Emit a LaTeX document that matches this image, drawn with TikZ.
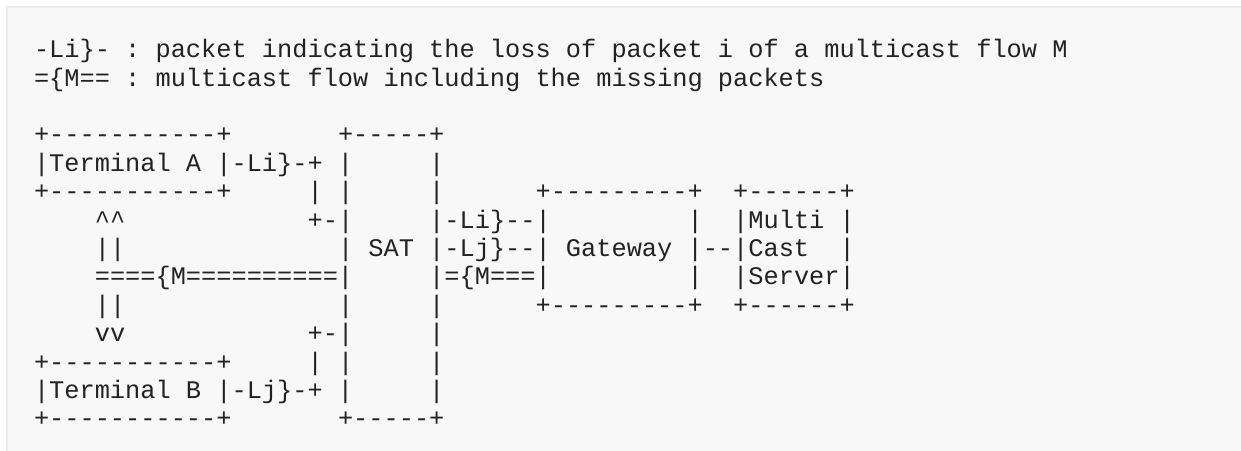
\documentclass[tikz,border=0pt]{standalone}
\usepackage{fontspec}
\setmonofont{Liberation Mono}
\definecolor{bgc}{HTML}{F8F8F8}
\definecolor{bdr}{HTML}{EBEBEB}
\definecolor{txt}{HTML}{222222}
\newcommand\asciifont{\ttfamily\fontsize{25.33bp}{28.4bp}\selectfont}
\newcommand\asccaret{\char"5E\relax}
\tikzset{asc/.style={anchor=base west, inner sep=0pt, outer sep=0pt, font=\asciifont, text=txt}}
\begin{document}
\begin{tikzpicture}[x=1bp,y=-1bp]
\useasboundingbox (0,0) rectangle (1241,451);
\fill[white] (0,0) rectangle (1241,451);
\fill[bgc] (6,6) rectangle (1250,460);
\draw[bdr, line width=2bp] (7,460) -- (7,7) -- (1250,7);
\def\lx{34}
\node[asc] (l1)  at (\lx, 57.7) {-Li\}-~:~packet~indicating~the~loss~of~packet~i~of~a~multicast~flow~M};
\node[asc] (l2)  at (\lx, 86.1) {=\{M==~:~multicast~flow~including~the~missing~packets};
\node[asc] (l4)  at (\lx, 142.9) {+-----------+~~~~~~~+-----+};
\node[asc] (l5)  at (\lx, 171.3) {|Terminal~A~|-Li\}-+~|~~~~~|};
\node[asc] (l6)  at (\lx, 199.7) {+-----------+~~~~~|~|~~~~~|~~~~~~+---------+~~+------+};
\node[asc] (l7)  at (\lx, 228.1) {~~~~\asccaret\asccaret~~~~~~~~~~~~+-|~~~~~|-Li\}--|~~~~~~~~~|~~|Multi~|};
\node[asc] (l8)  at (\lx, 256.5) {~~~~||~~~~~~~~~~~~~~|~SAT~|-Lj\}--|~Gateway~|--|Cast~~|};
\node[asc] (l9)  at (\lx, 284.9) {~~~~====\{M==========|~~~~~|=\{M===|~~~~~~~~~|~~|Server|};
\node[asc] (l10) at (\lx, 313.3) {~~~~||~~~~~~~~~~~~~~|~~~~~|~~~~~~+---------+~~+------+};
\node[asc] (l11) at (\lx, 341.7) {~~~~vv~~~~~~~~~~~~+-|~~~~~|};
\node[asc] (l12) at (\lx, 370.1) {+-----------+~~~~~|~|~~~~~|};
\node[asc] (l13) at (\lx, 398.5) {|Terminal~B~|-Lj\}-+~|~~~~~|};
\node[asc] (l14) at (\lx, 426.9) {+-----------+~~~~~~~+-----+};
\end{tikzpicture}
\end{document}
